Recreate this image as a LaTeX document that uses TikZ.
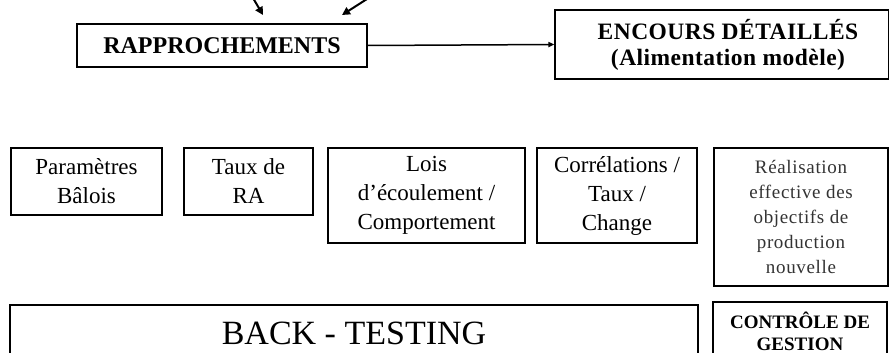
\documentclass[tikz,border=0pt]{standalone}
\usepackage{fontspec}
\setmainfont{Liberation Serif}
\newfontfamily\spacedserif[LetterSpace=3.5]{Liberation Serif}
\newfontfamily\widebold[LetterSpace=2]{Liberation Serif}
\usetikzlibrary{arrows.meta}

\tikzset{
  thinbox/.style={draw=black, line width=1.1pt, inner sep=0pt},
  thickbox/.style={draw=black, line width=2pt, inner sep=0pt},
  rowtext/.style={align=center, font={\fontsize{23}{29}\selectfont}},
  smalltext/.style={align=center, text=black!80, font={\spacedserif\fontsize{19}{25}\selectfont}},
  headtext/.style={align=center, font={\widebold\bfseries\fontsize{23.5}{26}\selectfont}},
  feed/.style={line width=2pt, -{Triangle[length=8pt,width=8pt]}},
  link/.style={line width=1.5pt, -{Triangle[length=6pt,width=5pt]}}
}

\begin{document}
\begin{tikzpicture}[x=1pt, y=-1pt]
  \clip (0,0) rectangle (889,353);
  \fill[white] (0,0) rectangle (889,353);

  % incoming arrows from above
  \coordinate (inA) at (253,-2);
  \coordinate (inAend) at (263,15);
  \coordinate (inB) at (367,-1);
  \coordinate (inBend) at (342,15);
  \draw[feed] (inA) -- (inAend);
  \draw[feed] (inB) -- (inBend);

  % top row
  \node[thickbox, minimum width=290pt, minimum height=43pt,
        font={\bfseries\fontsize{24}{26}\selectfont}] (rap) at (222,45.5) {RAPPROCHEMENTS};
  \node[thinbox, minimum width=334pt, minimum height=69pt] (enc) at (722,44.5) {};
  \node[headtext] (enctxt) at (728,45) {ENCOURS DÉTAILLÉS\\(Alimentation modèle)};
  \draw[link] (rap.east) -- (enc.west);

  % parameter boxes
  \node[thinbox, rowtext, minimum width=151pt, minimum height=67pt] (bale) at (86.5,181.5) {Paramètres\\Bâlois};
  \node[thinbox, rowtext, minimum width=129pt, minimum height=67pt] (ra) at (248.5,181.5) {Taux de\\RA};
  \node[thinbox, rowtext, minimum width=197pt, minimum height=95pt] (lois) at (426.5,195.5) {Lois\\d’écoulement /\\Comportement};
  \node[thinbox, rowtext, minimum width=160pt, minimum height=95pt] (corr) at (617,195.5) {Corrélations /\\Taux /\\Change};
  \node[thinbox, smalltext, minimum width=174pt, minimum height=138pt] (prod) at (801,217) {Réalisation\\effective des\\objectifs de\\production\\nouvelle};

  % bottom row
  \node[thickbox, minimum width=688pt, minimum height=56pt,
        font={\fontsize{34}{36}\selectfont}] (bt) at (354,333) {BACK - TESTING};
  \node[thickbox, minimum width=174pt, minimum height=58pt, align=center,
        font={\bfseries\fontsize{19}{22}\selectfont}] (cdg) at (800,331) {CONTRÔLE DE\\GESTION};
\end{tikzpicture}
\end{document}
